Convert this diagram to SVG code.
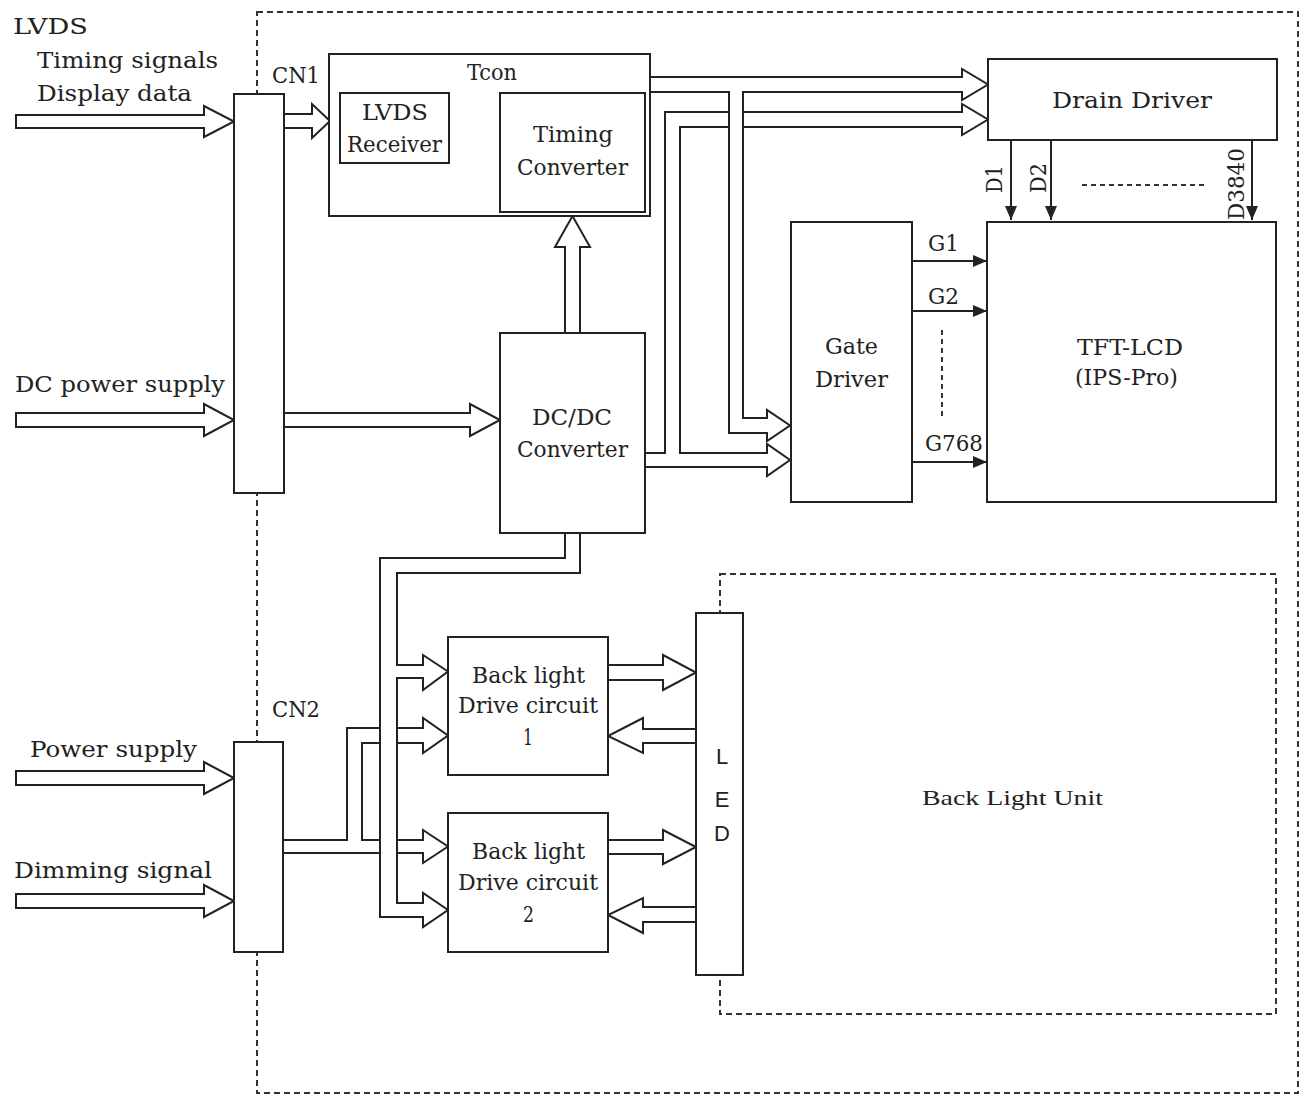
<svg xmlns="http://www.w3.org/2000/svg" width="1301" height="1097" viewBox="0 0 1301 1097">
<style>
.box{fill:#fff;stroke:#222;stroke-width:2}
.pipe{fill:none;stroke:#222;stroke-width:2;stroke-linejoin:miter}
.inarrow{fill:#fff;stroke:#222;stroke-width:2}
.sig{stroke:#222;stroke-width:2;fill:none}
.dash{fill:none;stroke:#333;stroke-width:2;stroke-dasharray:6 4}
.dots{fill:none;stroke:#333;stroke-width:2;stroke-dasharray:5 4}
text{font-family:"DejaVu Serif","Liberation Serif",serif;font-size:22px;fill:#222;lengthAdjust:spacingAndGlyphs}
.sans{font-family:"Liberation Sans",Arial,sans-serif}
.times{font-family:"Liberation Serif","Times New Roman",serif}
</style>
<defs>
<marker id="ah" viewBox="0 0 14 12" refX="14" refY="6" markerWidth="14" markerHeight="12" markerUnits="userSpaceOnUse" orient="auto"><path d="M0,0 L14,6 L0,12 Z" fill="#222"/></marker>
</defs>
<rect width="1301" height="1097" fill="#fff"/>

<g id="frames">
<rect x="257" y="12" width="1041" height="1081" class="dash"/>
<rect x="720" y="574" width="556" height="440" class="dash"/>
</g>

<g id="connectors">
<path class="inarrow" d="M16,115 H204 V106 L234,121.5 L204,137 V128 H16 Z"/>
<path class="inarrow" d="M16,413 H204 V404 L234,420 L204,436 V427 H16 Z"/>
<path class="inarrow" d="M16,771 H204 V762 L234,778 L204,794 V785 H16 Z"/>
<path class="inarrow" d="M16,894 H204 V885 L234,901 L204,917 V908 H16 Z"/>
<path class="pipe" d="M284,114 H312 V104 L330,121 L312,138 V128 H284"/>
<path class="pipe" d="M449,114 H474 V105 L500,122 L474,139 V130 H449"/>
<path class="pipe" d="M284,413 H470 V404 L500,420 L470,436 V427 H284"/>
<path class="pipe" d="M565,333 V247 H555 L572.5,216 L590,247 H580 V333"/>
<path class="pipe" d="M650,77 H962 V69 L988,84.5 L962,100 V92 H743 V418 H767 V410 L790,425.5 L767,441 V433 H729 V92 H650"/>
<path class="pipe" d="M645,453 H665 V112 H729 M743,112 H962 V104 L988,119.5 L962,135 V127 H743 M729,127 H680 V453 H767 V444 L790,460 L767,476 V467 H645"/>
<path class="pipe" d="M565,533 V558 H380 V917 H423 V927 L448,910 L423,893 V903 H397 V678 H423 V690 L448,671.5 L423,655 V665 H397 V573 H580 V533"/>
<path class="pipe" d="M283,840 H347 V728 H380 M397,728 H423 V718 L448,735.5 L423,753 V743 H397 M380,743 H362 V840 H380 M397,840 H423 V830 L448,846.5 L423,863 V853 H397 M380,853 H283"/>
<path class="pipe" d="M608,665 H663 V655 L696,672.5 L663,690 V680 H608"/>
<path class="pipe" d="M696,729 H643 V718 L608,736 L643,753 V743 H696"/>
<path class="pipe" d="M608,840 H663 V830 L696,847 L663,864 V854 H608"/>
<path class="pipe" d="M696,907 H643 V898 L608,915 L643,933 V922 H696"/>
<line class="sig" x1="913" y1="261" x2="987" y2="261" marker-end="url(#ah)"/>
<line class="sig" x1="913" y1="311" x2="987" y2="311" marker-end="url(#ah)"/>
<line class="sig" x1="913" y1="462" x2="987" y2="462" marker-end="url(#ah)"/>
<line class="dots" x1="942" y1="330" x2="942" y2="418"/>
<line class="sig" x1="1011" y1="140" x2="1011" y2="220" marker-end="url(#ah)"/>
<line class="sig" x1="1051" y1="140" x2="1051" y2="220" marker-end="url(#ah)"/>
<line class="sig" x1="1252" y1="140" x2="1252" y2="220" marker-end="url(#ah)"/>
<line class="dots" x1="1082" y1="185" x2="1204" y2="185"/>
</g>

<g id="labels">
<text x="13" y="34" textLength="75" lengthAdjust="spacingAndGlyphs">LVDS</text>
<text x="37" y="68" textLength="181" lengthAdjust="spacingAndGlyphs">Timing signals</text>
<text x="37" y="101" textLength="155" lengthAdjust="spacingAndGlyphs">Display data</text>
<text x="15" y="392" textLength="210" lengthAdjust="spacingAndGlyphs">DC power supply</text>
<text x="30" y="757" textLength="167" lengthAdjust="spacingAndGlyphs">Power supply</text>
<text x="14" y="878" textLength="198" lengthAdjust="spacingAndGlyphs">Dimming signal</text>
<text x="928" y="251" textLength="31" lengthAdjust="spacingAndGlyphs">G1</text>
<text x="928" y="304" textLength="31" lengthAdjust="spacingAndGlyphs">G2</text>
<text x="925" y="451" textLength="58" lengthAdjust="spacingAndGlyphs">G768</text>
<text transform="translate(1002,193) rotate(-90)" font-size="21" textLength="28" lengthAdjust="spacingAndGlyphs">D1</text>
<text transform="translate(1046,193) rotate(-90)" font-size="21" textLength="30" lengthAdjust="spacingAndGlyphs">D2</text>
<text transform="translate(1244,220) rotate(-90)" font-size="21" textLength="72" lengthAdjust="spacingAndGlyphs">D3840</text>
</g>

<g id="cn1">
<rect class="box" x="234" y="94" width="50" height="399"/>
<text x="272" y="83" textLength="48" lengthAdjust="spacingAndGlyphs">CN1</text>
</g>
<g id="cn2">
<rect class="box" x="234" y="742" width="49" height="210"/>
<text x="272" y="717" textLength="48" lengthAdjust="spacingAndGlyphs">CN2</text>
</g>
<g id="tcon">
<rect class="box" x="329" y="54" width="321" height="162"/>
<text x="467" y="80" textLength="50" lengthAdjust="spacingAndGlyphs">Tcon</text>
</g>
<g id="lvds-receiver">
<rect class="box" x="340" y="93" width="109" height="70"/>
<text x="362" y="120" textLength="66" lengthAdjust="spacingAndGlyphs">LVDS</text>
<text x="347" y="152" textLength="95" lengthAdjust="spacingAndGlyphs">Receiver</text>
</g>
<g id="timing-converter">
<rect class="box" x="500" y="93" width="145" height="119"/>
<text x="533" y="142" textLength="80" lengthAdjust="spacingAndGlyphs">Timing</text>
<text x="517" y="175" textLength="111" lengthAdjust="spacingAndGlyphs">Converter</text>
</g>
<g id="dcdc">
<rect class="box" x="500" y="333" width="145" height="200"/>
<text x="532" y="425" textLength="80" lengthAdjust="spacingAndGlyphs">DC/DC</text>
<text x="517" y="457" textLength="111" lengthAdjust="spacingAndGlyphs">Converter</text>
</g>
<g id="drain-driver">
<rect class="box" x="988" y="59" width="289" height="81"/>
<text x="1052" y="108" textLength="160" lengthAdjust="spacingAndGlyphs">Drain Driver</text>
</g>
<g id="gate-driver">
<rect class="box" x="791" y="222" width="121" height="280"/>
<text x="825" y="354" textLength="53" lengthAdjust="spacingAndGlyphs">Gate</text>
<text x="815" y="387" textLength="73" lengthAdjust="spacingAndGlyphs">Driver</text>
</g>
<g id="tft-lcd">
<rect class="box" x="987" y="222" width="289" height="280"/>
<text x="1077" y="355" textLength="106" lengthAdjust="spacingAndGlyphs">TFT-LCD</text>
<text x="1075" y="385" textLength="103" lengthAdjust="spacingAndGlyphs">(IPS-Pro)</text>
</g>
<g id="bl-drive-1">
<rect class="box" x="448" y="637" width="160" height="138"/>
<text x="472" y="683" textLength="113" lengthAdjust="spacingAndGlyphs">Back light</text>
<text x="458" y="713" textLength="140" lengthAdjust="spacingAndGlyphs">Drive circuit</text>
<text x="523" y="745" textLength="10" lengthAdjust="spacingAndGlyphs">1</text>
</g>
<g id="bl-drive-2">
<rect class="box" x="448" y="813" width="160" height="139"/>
<text x="472" y="859" textLength="113" lengthAdjust="spacingAndGlyphs">Back light</text>
<text x="458" y="890" textLength="140" lengthAdjust="spacingAndGlyphs">Drive circuit</text>
<text x="523" y="922" textLength="11" lengthAdjust="spacingAndGlyphs">2</text>
</g>
<g id="led">
<rect class="box" x="696" y="613" width="47" height="362"/>
<text class="sans" x="722" y="764" text-anchor="middle">L</text>
<text class="sans" x="722" y="807" text-anchor="middle">E</text>
<text class="sans" x="722" y="841" text-anchor="middle">D</text>
</g>
<g id="back-light-unit">
<text class="times" x="922" y="805" font-size="23" textLength="181" lengthAdjust="spacingAndGlyphs">Back Light Unit</text>
</g>
</svg>
